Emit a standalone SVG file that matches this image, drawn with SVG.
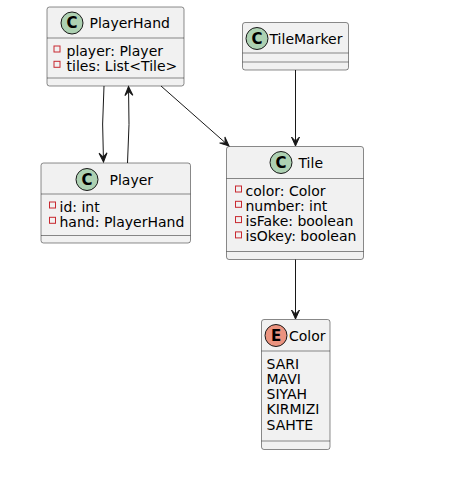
<svg xmlns="http://www.w3.org/2000/svg" width="453" height="480" viewBox="0 0 453 480">
<style>
.box{fill:#F1F1F1;stroke:#181818;stroke-width:0.5}
.sep{stroke:#181818;stroke-width:0.5}
.cc{fill:#ADD1B2;stroke:#181818;stroke-width:1}
.ce{fill:#EB937F;stroke:#181818;stroke-width:1}
.lt{font-family:"DejaVu Sans",sans-serif;font-size:15px;font-weight:bold;fill:#000;text-anchor:middle}
.t{font-family:"DejaVu Sans",sans-serif;font-size:14px;fill:#000}
.priv{fill:none;stroke:#C82930;stroke-width:1}
.edge{fill:none;stroke:#181818;stroke-width:1}
</style>
<defs>
<marker id="arr" viewBox="-11 -6 13 12" refX="0" refY="0" markerWidth="13" markerHeight="12" orient="auto" markerUnits="userSpaceOnUse">
<path d="M0,0 L-9,-4 L-5,0 L-9,4 Z" fill="#181818" stroke="#181818" stroke-width="1" stroke-linejoin="miter"/>
</marker>
</defs>
<rect width="453" height="480" fill="#FFFFFF"/>

<g id="PlayerHand">
<rect class="box" x="47" y="7" width="137" height="79" rx="2.5"/>
<circle class="cc" cx="72" cy="23" r="11"/>
<text class="lt" x="72" y="28.3">C</text>
<text class="t" x="89.5" y="28">PlayerHand</text>
<line class="sep" x1="47" y1="38" x2="184" y2="38"/>
<rect class="priv" x="54" y="46" width="6" height="6"/>
<text class="t" x="66.5" y="55.5">player: Player</text>
<rect class="priv" x="54" y="61.3" width="6" height="6"/>
<text class="t" x="66.5" y="70.8">tiles: List&lt;Tile&gt;</text>
<line class="sep" x1="47" y1="78" x2="184" y2="78"/>
</g>

<g id="Player">
<rect class="box" x="41" y="163" width="149.5" height="80" rx="2.5"/>
<circle class="cc" cx="87" cy="179.5" r="11"/>
<text class="lt" x="87" y="184.8">C</text>
<text class="t" x="109.5" y="185">Player</text>
<line class="sep" x1="41" y1="194" x2="190.5" y2="194"/>
<rect class="priv" x="49.5" y="202" width="6" height="6"/>
<text class="t" x="59.5" y="211.5">id: int</text>
<rect class="priv" x="49.5" y="217.3" width="6" height="6"/>
<text class="t" x="59.5" y="226.8">hand: PlayerHand</text>
<line class="sep" x1="41" y1="235.5" x2="190.5" y2="235.5"/>
</g>

<g id="TileMarker">
<rect class="box" x="242.5" y="22.5" width="106" height="47.5" rx="2.5"/>
<circle class="cc" cx="257" cy="38.5" r="11"/>
<text class="lt" x="257" y="43.8">C</text>
<text class="t" x="269.5" y="43.5">TileMarker</text>
<line class="sep" x1="242.5" y1="53" x2="348.5" y2="53"/>
<line class="sep" x1="242.5" y1="62" x2="348.5" y2="62"/>
</g>

<g id="Tile">
<rect class="box" x="226.5" y="146.5" width="137" height="113" rx="2.5"/>
<circle class="cc" cx="281" cy="162.5" r="11"/>
<text class="lt" x="281" y="167.8">C</text>
<text class="t" x="298.5" y="167.5">Tile</text>
<line class="sep" x1="226.5" y1="178.5" x2="363.5" y2="178.5"/>
<rect class="priv" x="235.5" y="186" width="6" height="6"/>
<text class="t" x="245.5" y="195.5">color: Color</text>
<rect class="priv" x="235.5" y="201.3" width="6" height="6"/>
<text class="t" x="245.5" y="210.8">number: int</text>
<rect class="priv" x="235.5" y="216.6" width="6" height="6"/>
<text class="t" x="245.5" y="226.1">isFake: boolean</text>
<rect class="priv" x="235.5" y="231.9" width="6" height="6"/>
<text class="t" x="245.5" y="241.4">isOkey: boolean</text>
<line class="sep" x1="226.5" y1="251.5" x2="363.5" y2="251.5"/>
</g>

<g id="Color">
<rect class="box" x="261.5" y="319.5" width="68.5" height="130" rx="2.5"/>
<circle class="ce" cx="276" cy="335.5" r="11"/>
<text class="lt" x="276" y="340.8">E</text>
<text class="t" x="289" y="340.5">Color</text>
<line class="sep" x1="261.5" y1="351" x2="330" y2="351"/>
<text class="t" x="266.5" y="368.5">SARI</text>
<text class="t" x="266.5" y="383.8">MAVI</text>
<text class="t" x="266.5" y="399.1">SIYAH</text>
<text class="t" x="266.5" y="414.4">KIRMIZI</text>
<text class="t" x="266.5" y="429.7">SAHTE</text>
<line class="sep" x1="261.5" y1="441" x2="330" y2="441"/>
</g>

<g id="connectors">
<path class="edge" d="M104,86 Q101.5,124 103.5,162" marker-end="url(#arr)"/>
<path class="edge" d="M127.5,163 Q130,124 128.5,86.5" marker-end="url(#arr)"/>
<path class="edge" d="M161,86 L229,146" marker-end="url(#arr)"/>
<path class="edge" d="M295.5,70 L295.5,146" marker-end="url(#arr)"/>
<path class="edge" d="M295.5,259.5 L295.5,319" marker-end="url(#arr)"/>
</g>
</svg>
